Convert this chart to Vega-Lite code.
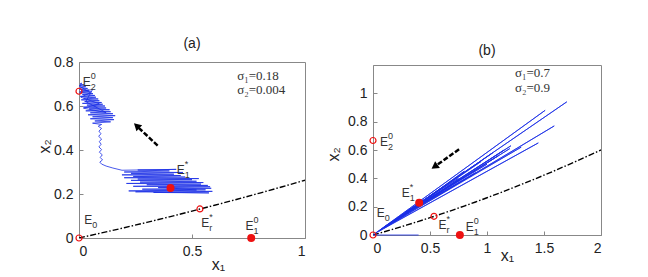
{
 "$schema": "https://vega.github.io/schema/vega-lite/v6.json",
 "background": "white",
 "padding": {"left": 35, "top": 36, "right": 5, "bottom": 5},
 "bounds": "flush",
 "center": true,
 "spacing": 68,
 "datasets": {
  "curve": [
   {"x":0,"y":0},{"x":0.1,"y":0.023},{"x":0.2,"y":0.0466},{"x":0.3,"y":0.071},{"x":0.4,"y":0.0962},{"x":0.5,"y":0.1221},{"x":0.6,"y":0.1488},{"x":0.7,"y":0.1761},{"x":0.8,"y":0.2043},{"x":0.9,"y":0.2331},{"x":1.0,"y":0.2628},{"x":1.2,"y":0.3243},{"x":1.4,"y":0.3887},{"x":1.6,"y":0.4562},{"x":1.8,"y":0.5266},{"x":2.0,"y":0.6}
  ],
  "trajA": [
   {"i":1,"x":0.405,"y":0.227},{"i":2,"x":0.52,"y":0.218},{"i":3,"x":0.25,"y":0.21},{"i":4,"x":0.575,"y":0.205},{"i":5,"x":0.33,"y":0.207},{"i":6,"x":0.59,"y":0.212},{"i":7,"x":0.22,"y":0.214},{"i":8,"x":0.56,"y":0.219},{"i":9,"x":0.28,"y":0.222},{"i":10,"x":0.585,"y":0.226},
   {"i":11,"x":0.35,"y":0.229},{"i":12,"x":0.58,"y":0.233},{"i":13,"x":0.24,"y":0.235},{"i":14,"x":0.57,"y":0.239},{"i":15,"x":0.3,"y":0.242},{"i":16,"x":0.54,"y":0.245},{"i":17,"x":0.21,"y":0.248},{"i":18,"x":0.55,"y":0.252},{"i":19,"x":0.27,"y":0.254},{"i":20,"x":0.52,"y":0.258},
   {"i":21,"x":0.23,"y":0.262},{"i":22,"x":0.5,"y":0.265},{"i":23,"x":0.26,"y":0.268},{"i":24,"x":0.53,"y":0.27},{"i":25,"x":0.2,"y":0.274},{"i":26,"x":0.47,"y":0.277},{"i":27,"x":0.24,"y":0.28},{"i":28,"x":0.45,"y":0.284},{"i":29,"x":0.19,"y":0.287},{"i":30,"x":0.42,"y":0.29},
   {"i":31,"x":0.23,"y":0.294},{"i":32,"x":0.46,"y":0.298},{"i":33,"x":0.2,"y":0.3},{"i":34,"x":0.4,"y":0.305},{"i":35,"x":0.26,"y":0.309},{"i":36,"x":0.43,"y":0.312},{"i":37,"x":0.19,"y":0.308},{"i":38,"x":0.15,"y":0.318},{"i":39,"x":0.12,"y":0.327},{"i":40,"x":0.1,"y":0.336},
   {"i":41,"x":0.092,"y":0.345},{"i":42,"x":0.104,"y":0.355},{"i":43,"x":0.094,"y":0.366},{"i":44,"x":0.103,"y":0.378},{"i":45,"x":0.09,"y":0.39},{"i":46,"x":0.1,"y":0.402},{"i":47,"x":0.088,"y":0.414},{"i":48,"x":0.098,"y":0.426},{"i":49,"x":0.09,"y":0.438},{"i":50,"x":0.1,"y":0.45},
   {"i":51,"x":0.087,"y":0.462},{"i":52,"x":0.097,"y":0.474},{"i":53,"x":0.088,"y":0.486},{"i":54,"x":0.1,"y":0.498},{"i":55,"x":0.085,"y":0.508},{"i":56,"x":0.1,"y":0.516},{"i":57,"x":0.06,"y":0.522},{"i":58,"x":0.14,"y":0.528},{"i":59,"x":0.07,"y":0.532},{"i":60,"x":0.155,"y":0.538},
   {"i":61,"x":0.05,"y":0.542},{"i":62,"x":0.15,"y":0.547},{"i":63,"x":0.06,"y":0.551},{"i":64,"x":0.16,"y":0.556},{"i":65,"x":0.04,"y":0.56},{"i":66,"x":0.15,"y":0.565},{"i":67,"x":0.05,"y":0.569},{"i":68,"x":0.14,"y":0.574},{"i":69,"x":0.03,"y":0.578},{"i":70,"x":0.135,"y":0.583},
   {"i":71,"x":0.045,"y":0.587},{"i":72,"x":0.12,"y":0.591},{"i":73,"x":0.02,"y":0.595},{"i":74,"x":0.115,"y":0.6},{"i":75,"x":0.035,"y":0.604},{"i":76,"x":0.105,"y":0.608},{"i":77,"x":0.015,"y":0.612},{"i":78,"x":0.1,"y":0.616},{"i":79,"x":0.025,"y":0.62},{"i":80,"x":0.09,"y":0.624},
   {"i":81,"x":0.01,"y":0.628},{"i":82,"x":0.085,"y":0.632},{"i":83,"x":0.02,"y":0.636},{"i":84,"x":0.075,"y":0.64},{"i":85,"x":0.005,"y":0.644},{"i":86,"x":0.07,"y":0.648},{"i":87,"x":0.015,"y":0.652},{"i":88,"x":0.062,"y":0.656},{"i":89,"x":0.003,"y":0.66},{"i":90,"x":0.055,"y":0.664},
   {"i":91,"x":0.01,"y":0.668},{"i":92,"x":0.045,"y":0.672},{"i":93,"x":0.002,"y":0.676},{"i":94,"x":0.038,"y":0.68},{"i":95,"x":0.006,"y":0.684},{"i":96,"x":0.03,"y":0.688},{"i":97,"x":0.001,"y":0.692},{"i":98,"x":0.022,"y":0.696},{"i":99,"x":0.004,"y":0.7},{"i":100,"x":0.012,"y":0.704},
   {"i":101,"x":0.003,"y":0.69},{"i":102,"x":0.05,"y":0.66},{"i":103,"x":0.008,"y":0.64},{"i":104,"x":0.09,"y":0.61},{"i":105,"x":0.02,"y":0.59},{"i":106,"x":0.12,"y":0.57},{"i":107,"x":0.03,"y":0.62},{"i":108,"x":0.06,"y":0.675},{"i":109,"x":0.002,"y":0.665}
  ],
  "trajB": [
   {"i":1,"x":0.4,"y":0.0},{"i":2,"x":0.0,"y":0.0},{"i":3,"x":1.7,"y":0.94},{"i":4,"x":0.02,"y":0.012},{"i":5,"x":1.51,"y":0.88},{"i":6,"x":0.06,"y":0.035},{"i":7,"x":1.59,"y":0.77},{"i":8,"x":0.05,"y":0.025},{"i":9,"x":1.45,"y":0.65},{"i":10,"x":0.1,"y":0.05},
   {"i":11,"x":1.21,"y":0.63},{"i":12,"x":0.12,"y":0.065},{"i":13,"x":1.2,"y":0.61},{"i":14,"x":0.15,"y":0.08},{"i":15,"x":1.1,"y":0.56},{"i":16,"x":0.1,"y":0.058},{"i":17,"x":0.95,"y":0.52},{"i":18,"x":0.18,"y":0.09},{"i":19,"x":1.3,"y":0.62},{"i":20,"x":0.2,"y":0.11},
   {"i":21,"x":1.05,"y":0.58},{"i":22,"x":0.15,"y":0.085},{"i":23,"x":0.9,"y":0.44},{"i":24,"x":0.22,"y":0.12},{"i":25,"x":1.15,"y":0.6},{"i":26,"x":0.25,"y":0.13},{"i":27,"x":0.8,"y":0.45},{"i":28,"x":0.3,"y":0.155},{"i":29,"x":1.0,"y":0.5},{"i":30,"x":0.28,"y":0.16},
   {"i":31,"x":0.75,"y":0.4},{"i":32,"x":0.405,"y":0.227}
  ],
  "eq": [
   {"t":"open","x":0,"y":0},{"t":"open","x":0,"y":0.667},{"t":"open","x":0.535,"y":0.132},{"t":"fill","x":0.762,"y":0},{"t":"fill","x":0.405,"y":0.227}
  ],
  "labels": [
   {"p":"a","x":0.034,"y":0.709,"sup":"0","sub":"2"},
   {"p":"a","x":0.45,"y":0.31,"sup":"*","sub":"1"},
   {"p":"a","x":0.559,"y":0.068,"sup":"*","sub":"r"},
   {"p":"a","x":0.041,"y":0.08,"sup":"","sub":"0"},
   {"p":"a","x":0.754,"y":0.053,"sup":"0","sub":"1"},
   {"p":"b","x":0.097,"y":0.659,"sup":"0","sub":"2"},
   {"p":"b","x":0.287,"y":0.299,"sup":"*","sub":"1"},
   {"p":"b","x":0.609,"y":0.071,"sup":"*","sub":"r"},
   {"p":"b","x":0.067,"y":0.153,"sup":"","sub":"0"},
   {"p":"b","x":0.849,"y":0.059,"sup":"0","sub":"1"}
  ],
  "sigma": [
   {"p":"a","x":0.7,"y":0.736,"t":"σ₁=0.18"},
   {"p":"a","x":0.7,"y":0.671,"t":"σ₂=0.004"},
   {"p":"b","x":1.245,"y":1.141,"t":"σ₁=0.7"},
   {"p":"b","x":1.245,"y":1.035,"t":"σ₂=0.9"}
  ],
  "arrows": [
   {"p":"a","i":0,"x":0.348,"y":0.42},{"p":"a","i":1,"x":0.262,"y":0.503},
   {"p":"b","i":0,"x":0.755,"y":0.605},{"p":"b","i":1,"x":0.55,"y":0.488}
  ],
  "heads": [
   {"p":"a","x":0.255,"y":0.51},
   {"p":"b","x":0.54,"y":0.482}
  ]
 },
 "hconcat": [
  {
   "width": 226, "height": 176,
   "title": {"text": "(a)", "offset": 4},
   "encoding": {
    "x": {"field":"x","type":"quantitative","scale":{"domain":[0,1],"nice":false,"zero":false},
          "axis":{"values":[0,0.5,1],"title":"x₁","titleX":139,"titleY":26}},
    "y": {"field":"y","type":"quantitative","scale":{"domain":[0,0.8],"nice":false,"zero":false},
          "axis":{"values":[0,0.2,0.4,0.6,0.8],"title":"x₂","titleX":-35,"titleY":84}}
   },
   "layer": [
    {"data":{"name":"curve"},"transform":[{"filter":"datum.x <= 1"}],"mark":{"type":"line","color":"black","strokeWidth":1.4,"strokeDash":[6,2,1.5,2],"clip":true},"encoding":{}},
    {"data":{"name":"trajA"},"mark":{"type":"line","color":"#1a2fe6","strokeWidth":0.8},"encoding":{"order":{"field":"i"}}},
    {"data":{"name":"arrows"},"transform":[{"filter":"datum.p == 'a'"}],"mark":{"type":"line","color":"black","strokeWidth":2.5,"strokeDash":[5,2]},"encoding":{"order":{"field":"i"}}},
    {"data":{"name":"heads"},"transform":[{"filter":"datum.p == 'a'"}],"mark":{"type":"point","shape":"triangle-up","filled":true,"color":"black","size":70,"angle":313,"opacity":1}},
    {"data":{"name":"eq"},"transform":[{"filter":"datum.t == 'open'"}],"mark":{"type":"point","shape":"circle","filled":false,"color":"#ee1111","size":36,"strokeWidth":1.2,"opacity":1}},
    {"data":{"name":"eq"},"transform":[{"filter":"datum.t == 'fill'"}],"mark":{"type":"circle","color":"#ee1111","size":64,"opacity":1}},
    {"data":{"name":"labels"},"transform":[{"filter":"datum.p == 'a'"}],"mark":{"type":"text","text":"E","font":"Liberation Sans","fontSize":12,"color":"#333","align":"center","baseline":"middle"}},
    {"data":{"name":"labels"},"transform":[{"filter":"datum.p == 'a'"}],"mark":{"type":"text","font":"Liberation Sans","fontSize":9,"color":"#333","align":"left","baseline":"middle","dx":4,"dy":-6},"encoding":{"text":{"field":"sup"}}},
    {"data":{"name":"labels"},"transform":[{"filter":"datum.p == 'a'"}],"mark":{"type":"text","font":"Liberation Sans","fontSize":9,"color":"#333","align":"left","baseline":"middle","dx":4,"dy":5},"encoding":{"text":{"field":"sub"}}},
    {"data":{"name":"sigma"},"transform":[{"filter":"datum.p == 'a'"}],"mark":{"type":"text","font":"Liberation Serif","fontSize":13,"color":"#333","align":"left","baseline":"middle"},"encoding":{"text":{"field":"t"}}}
   ]
  },
  {
   "width": 228, "height": 170,
   "title": {"text": "(b)", "offset": 7},
   "encoding": {
    "x": {"field":"x","type":"quantitative","scale":{"domain":[0,2],"nice":false,"zero":false},
          "axis":{"values":[0,0.5,1,1.5,2],"title":"x₁","titleX":134,"titleY":20}},
    "y": {"field":"y","type":"quantitative","scale":{"domain":[0,1.2],"nice":false,"zero":false},
          "axis":{"values":[0,0.2,0.4,0.6,0.8,1],"title":"x₂","titleX":-40,"titleY":89}}
   },
   "layer": [
    {"data":{"name":"curve"},"mark":{"type":"line","color":"black","strokeWidth":1.4,"strokeDash":[6,2,1.5,2],"clip":true},"encoding":{}},
    {"data":{"name":"trajB"},"mark":{"type":"line","color":"#1a2fe6","strokeWidth":0.8},"encoding":{"order":{"field":"i"}}},
    {"data":{"name":"arrows"},"transform":[{"filter":"datum.p == 'b'"}],"mark":{"type":"line","color":"black","strokeWidth":2.5,"strokeDash":[5,2]},"encoding":{"order":{"field":"i"}}},
    {"data":{"name":"heads"},"transform":[{"filter":"datum.p == 'b'"}],"mark":{"type":"point","shape":"triangle-up","filled":true,"color":"black","size":70,"angle":235,"opacity":1}},
    {"data":{"name":"eq"},"transform":[{"filter":"datum.t == 'open'"}],"mark":{"type":"point","shape":"circle","filled":false,"color":"#ee1111","size":36,"strokeWidth":1.2,"opacity":1}},
    {"data":{"name":"eq"},"transform":[{"filter":"datum.t == 'fill'"}],"mark":{"type":"circle","color":"#ee1111","size":64,"opacity":1}},
    {"data":{"name":"labels"},"transform":[{"filter":"datum.p == 'b'"}],"mark":{"type":"text","text":"E","font":"Liberation Sans","fontSize":12,"color":"#333","align":"center","baseline":"middle"}},
    {"data":{"name":"labels"},"transform":[{"filter":"datum.p == 'b'"}],"mark":{"type":"text","font":"Liberation Sans","fontSize":9,"color":"#333","align":"left","baseline":"middle","dx":4,"dy":-6},"encoding":{"text":{"field":"sup"}}},
    {"data":{"name":"labels"},"transform":[{"filter":"datum.p == 'b'"}],"mark":{"type":"text","font":"Liberation Sans","fontSize":9,"color":"#333","align":"left","baseline":"middle","dx":4,"dy":5},"encoding":{"text":{"field":"sub"}}},
    {"data":{"name":"sigma"},"transform":[{"filter":"datum.p == 'b'"}],"mark":{"type":"text","font":"Liberation Serif","fontSize":13,"color":"#333","align":"left","baseline":"middle"},"encoding":{"text":{"field":"t"}}}
   ]
  }
 ],
 "config": {
  "view": {"stroke": "#888", "strokeWidth": 1},
  "axis": {"grid": false, "domainColor": "#888", "tickColor": "#888", "tickSize": -4, "labelPadding": 10, "format": "~g",
           "labelFont": "Liberation Sans", "labelFontSize": 14, "labelColor": "#222",
           "titleFont": "Liberation Sans", "titleFontSize": 16, "titleFontWeight": "normal", "titleColor": "#222",
           "titleAlign": "center", "titleBaseline": "middle"},
  "axisY": {"titleAngle": -90},
  "title": {"font": "Liberation Sans", "fontSize": 14, "fontWeight": "normal", "color": "#222", "anchor": "middle"}
 }
}
